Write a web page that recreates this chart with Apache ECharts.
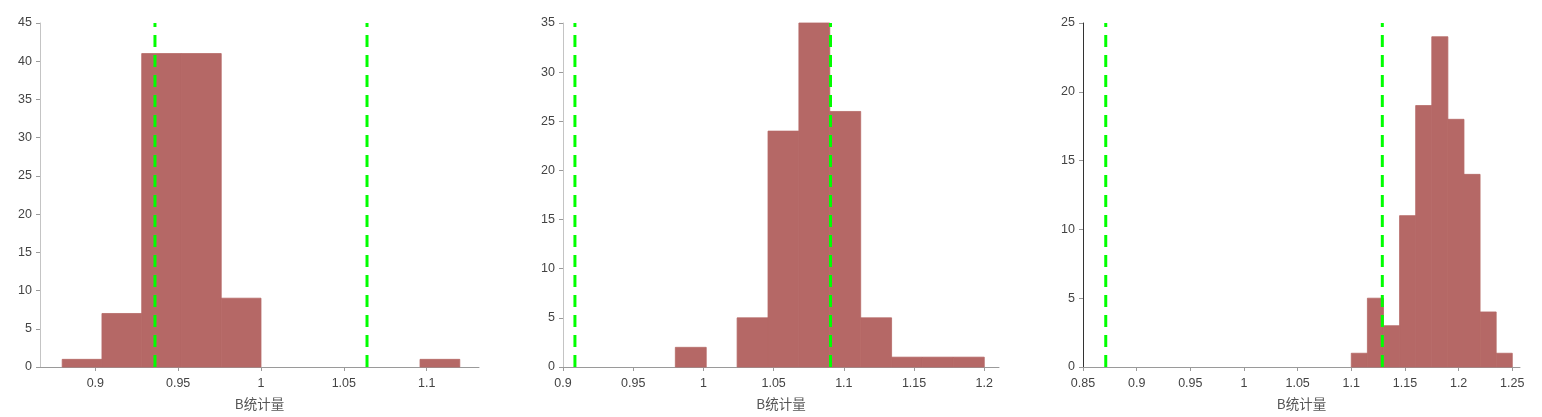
<!DOCTYPE html>
<html>
<head>
<meta charset="utf-8">
<script src="https://cdn.jsdelivr.net/npm/echarts@6/dist/echarts.min.js"></script>
<style>
html,body{margin:0;padding:0;background:#fff;}
#chart{width:1542px;height:417px;}
</style>
</head>
<body>
<div id="chart"></div>
<script>
// ---- Data ----
const axisName = 'B统计量';

// Panel 1
const p1BinEdges = [0.88, 0.904, 0.928, 0.952, 0.976, 1.0, 1.024, 1.048, 1.072, 1.096, 1.12];
const p1Counts   = [1, 7, 41, 41, 9, 0, 0, 0, 0, 1];
const p1Lines    = [0.936, 1.064];
const p1XTicks   = [0.9, 0.95, 1, 1.05, 1.1];
const p1XRange   = [0.8666, 1.1316];
const p1YMax     = 45;

// Panel 2
const p2BinEdges = [0.98, 1.002, 1.024, 1.046, 1.068, 1.09, 1.112, 1.134, 1.156, 1.178, 1.2];
const p2Counts   = [2, 0, 5, 24, 35, 26, 5, 1, 1, 1];
const p2Lines    = [0.9085, 1.0905];
const p2XTicks   = [0.9, 0.95, 1, 1.05, 1.1, 1.15, 1.2];
const p2XRange   = [0.9, 1.2105];
const p2YMax     = 35;

// Panel 3
const p3BinEdges = [1.1, 1.115, 1.13, 1.145, 1.16, 1.175, 1.19, 1.205, 1.22, 1.235, 1.25];
const p3Counts   = [1, 5, 3, 11, 19, 24, 18, 14, 4, 1];
const p3Lines    = [0.8712, 1.1289];
const p3XTicks   = [0.85, 0.9, 0.95, 1, 1.05, 1.1, 1.15, 1.2, 1.25];
const p3XRange   = [0.85, 1.2572];
const p3YMax     = 25;

const yTickStep = 5;

// ---- Chart ----
const panels = [
  {edges: p1BinEdges, counts: p1Counts, lines: p1Lines, ticks: p1XTicks, range: p1XRange, ymax: p1YMax,
   grid: {left: 40, top: 23, width: 439, height: 344}, yAxisColor: '#c4c4c4'},
  {edges: p2BinEdges, counts: p2Counts, lines: p2Lines, ticks: p2XTicks, range: p2XRange, ymax: p2YMax,
   grid: {left: 563, top: 23, width: 436, height: 344}, yAxisColor: '#c4c4c4'},
  {edges: p3BinEdges, counts: p3Counts, lines: p3Lines, ticks: p3XTicks, range: p3XRange, ymax: p3YMax,
   grid: {left: 1083, top: 23, width: 437, height: 344}, yAxisColor: '#333333'}
];

const barColor = '#b56866';
const lineColor = '#00ff00';
const labelFont = 'Arial, "Liberation Sans", Helvetica, sans-serif';

const option = {
  animation: false,
  backgroundColor: '#ffffff',
  grid: [], xAxis: [], yAxis: [], series: []
};

panels.forEach((p, i) => {
  option.grid.push(p.grid);
  option.xAxis.push({
    type: 'value', gridIndex: i, min: p.range[0], max: p.range[1],
    name: axisName, nameLocation: 'middle', nameGap: 30,
    nameTextStyle: {fontSize: 13.5, color: '#555', fontFamily: '"Noto Sans CJK SC", sans-serif'},
    splitLine: {show: false},
    axisLine: {show: true, onZero: false, lineStyle: {color: '#9a9a9a', width: 1}},
    axisTick: {show: true, inside: false, length: 4, customValues: p.ticks, lineStyle: {color: '#9a9a9a'}},
    axisLabel: {customValues: p.ticks, margin: 10, fontSize: 12.5, color: '#444', fontFamily: labelFont,
      formatter: v => String(+v.toFixed(4))}
  });
  option.yAxis.push({
    type: 'value', gridIndex: i, min: 0, max: p.ymax, interval: yTickStep,
    splitLine: {show: false},
    axisLine: {show: true, lineStyle: {color: p.yAxisColor, width: 1}},
    axisTick: {show: true, inside: false, length: 4, lineStyle: {color: '#9a9a9a'}},
    axisLabel: {margin: 8, fontSize: 12.5, color: '#444', fontFamily: labelFont}
  });
  const binData = p.counts.map((c, k) => [p.edges[k], p.edges[k + 1], c]);
  option.series.push({
    type: 'custom', xAxisIndex: i, yAxisIndex: i, z: 2,
    encode: {x: [0, 1], y: 2},
    data: binData,
    renderItem: (params, api) => {
      if (api.value(2) <= 0) return null;
      const p0 = api.coord([api.value(0), 0]);
      const p1 = api.coord([api.value(1), api.value(2)]);
      return {
        type: 'rect',
        shape: {x: p0[0], y: p1[1], width: p1[0] - p0[0], height: p0[1] - p1[1]},
        style: {fill: barColor, stroke: barColor, lineWidth: 0.8}
      };
    }
  });
  p.lines.forEach(v => {
    option.series.push({
      type: 'line', xAxisIndex: i, yAxisIndex: i, z: 5, silent: true,
      symbol: 'none',
      lineStyle: {color: lineColor, width: 3, type: [12, 8]},
      data: [[v, 0], [v, p.ymax]]
    });
  });
});

const chart = echarts.init(document.getElementById('chart'), null, {renderer: 'canvas'});
chart.setOption(option);
</script>
</body>
</html>
